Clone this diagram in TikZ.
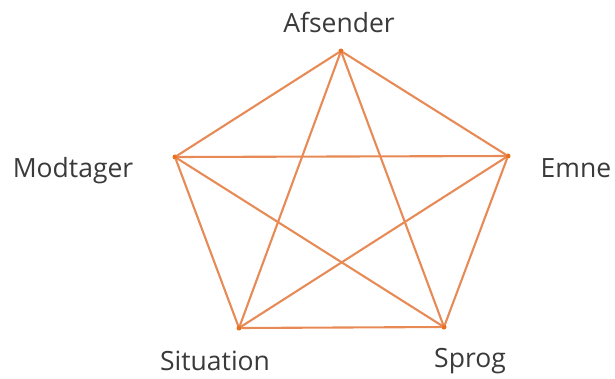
\documentclass[tikz,border=0pt]{standalone}
\usepackage{fontspec}
\setmainfont{Open Sans}
\usepackage{tikz}
\usetikzlibrary{positioning}

\definecolor{streg}{HTML}{E88A55}
\definecolor{prik}{HTML}{E8701E}
\definecolor{tekst}{HTML}{3A3A3A}

\begin{document}
\begin{tikzpicture}[
  x=1pt, y=-1pt,
  hjorne/.style={circle, fill=prik, inner sep=0pt, minimum size=5pt},
  etiket/.style={text=tekst, font=\fontsize{26.5}{30}\selectfont, inner sep=0pt},
  kant/.style={draw=streg, line width=2.1pt, line cap=round}]
  \useasboundingbox (0,0) rectangle (615,378);
  % hjørner
  \node[hjorne] (af) at (341,51)  {};
  \node[hjorne] (em) at (508,156) {};
  \node[hjorne] (sp) at (444,327) {};
  \node[hjorne] (si) at (239,328) {};
  \node[hjorne] (mo) at (175,157) {};
  % etiketter
  \node[etiket] (laf) at (339,22)  {Afsender};
  \node[etiket] (lem) at (576,168) {Emne};
  \node[etiket] (lsp) at (470,361) {Sprog};
  \node[etiket] (lsi) at (215,361) {Situation};
  \node[etiket] (lmo) at (73,171)  {Modtager};
  % femkant
  \draw[kant] (af) -- (em) -- (sp) -- (si) -- (mo) -- (af);
  % stjerne
  \draw[kant] (af) -- (sp); \draw[kant] (af) -- (si);
  \draw[kant] (em) -- (mo); \draw[kant] (em) -- (si);
  \draw[kant] (mo) -- (sp);
\end{tikzpicture}
\end{document}
